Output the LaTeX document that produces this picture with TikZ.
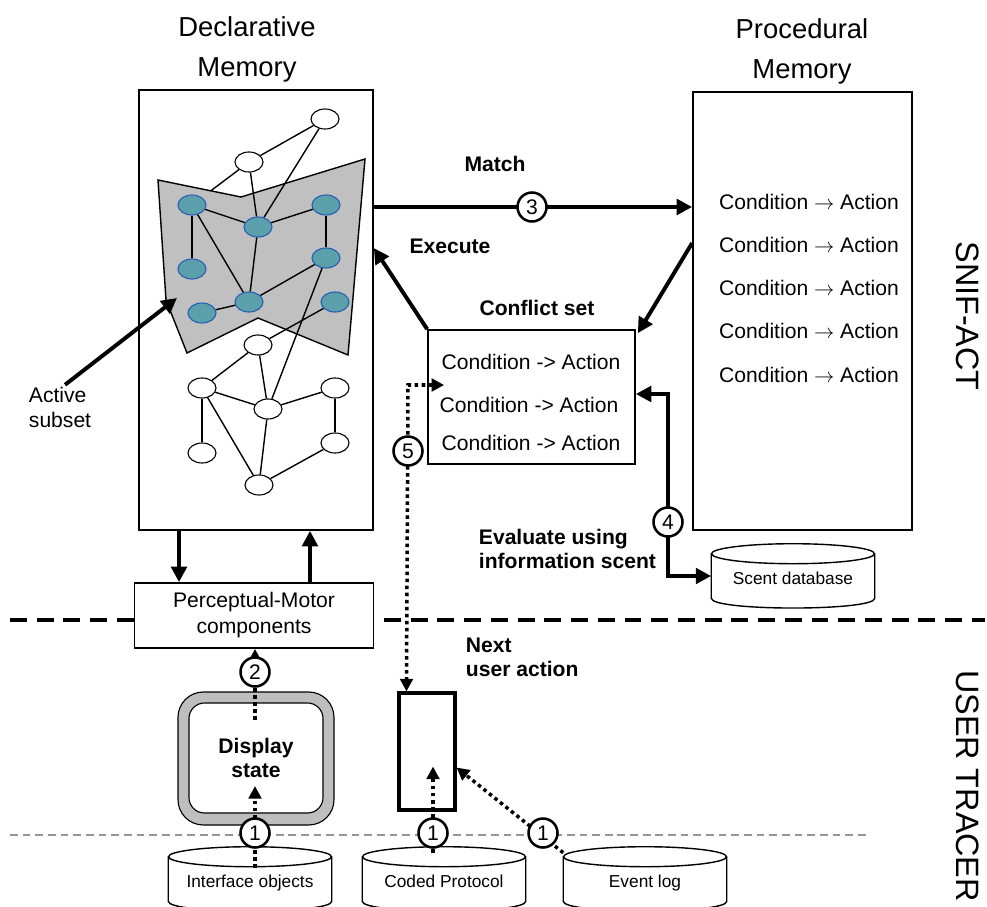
\documentclass[tikz,border=0pt]{standalone}
\usepackage{fontspec}
\setmainfont{Liberation Sans}
\usetikzlibrary{arrows.meta,calc,shapes.geometric}

\newcommand{\pxl}{0.025cm}
\definecolor{chunkfill}{RGB}{92,160,172}
\definecolor{chunkline}{RGB}{40,95,180}
\definecolor{subsetgray}{RGB}{192,192,192}
\definecolor{framegray}{RGB}{190,190,190}
\definecolor{rulegray}{RGB}{150,150,150}

\pgfdeclarelayer{back}
\pgfdeclarelayer{mid}
\pgfsetlayers{back,mid,main}

\tikzset{
  bigtip/.tip={Triangle[length=11pt,width=11pt]},
  smalltip/.tip={Triangle[length=9pt,width=9pt]},
  membox/.style={draw,line width=1.2pt,inner sep=0pt},
  chunk/.style={ellipse,draw,line width=0.8pt,fill=white,minimum width=28*\pxl,minimum height=20*\pxl,inner sep=0pt},
  active/.style={chunk,fill=chunkfill,draw=chunkline},
  link/.style={line width=1pt},
  thickarrow/.style={line width=2.8pt,-bigtip},
  dotline/.style={line width=2.5pt,dash pattern=on 2.5pt off 2.5pt},
  stepnum/.style={circle,draw,line width=1.8pt,fill=white,minimum size=29*\pxl,inner sep=0pt,font=\fontsize{15}{15}\selectfont},
  lbl/.style={font=\fontsize{15}{17.8}\selectfont},
  blbl/.style={font=\bfseries\fontsize{15}{17}\selectfont},
  title/.style={font=\fontsize{19.5}{28.4}\selectfont,align=center},
  side/.style={font=\fontsize{23}{23}\selectfont,rotate=-90},
  dbase/.style={minimum width=163*\pxl,minimum height=44*\pxl,inner sep=0pt,font=\fontsize{12.3}{14}\selectfont},
  dbline/.style={line width=1pt},
}

\begin{document}
\begin{tikzpicture}[x=\pxl,y=-\pxl]
\useasboundingbox (0,0) rectangle (987,907);

% separators between the two systems
\draw[line width=2.6pt,dash pattern=on 12pt off 7pt] (10,620) -- (985,620);
\draw[rulegray,line width=1.4pt,dash pattern=on 5.5pt off 3.5pt] (10,835) -- (870,835);

% memories
\node[title] (dtitle) at (247,49) {Declarative\\Memory};
\node[title] (ptitle) at (802,51) {Procedural\\Memory};
\node[membox,minimum width=234*\pxl,minimum height=440*\pxl] (decl) at (256,310) {};
\node[membox,minimum width=219*\pxl,minimum height=438*\pxl] (proc) at (802.5,311) {};
\node[membox,minimum width=207*\pxl,minimum height=134*\pxl] (cs) at (531.5,397) {};
\node[membox,fill=white,minimum width=239*\pxl,minimum height=65*\pxl,align=center,font=\fontsize{15}{18.5}\selectfont] (pm) at (254,615.5) {Perceptual-Motor\\components};

\foreach \y in {202,245,288,331,375}
  \node[lbl] (rule\y) at (809,\y) {Condition $\rightarrow$ Action};
\foreach \y/\x in {362/531,405/529,443/531}
  \node[lbl] (cand\y) at (\x,\y) {Condition -> Action};
\node[blbl] (cslabel) at (537,308) {Conflict set};

% chunks in declarative memory
\foreach \nm/\x/\y in {w1/325/119,w2/249/162,c1/258/345,c2/202/388,c3/268/409,c4/335/388,c5/202/453,c6/335/443,c7/259/485}
  \node[chunk] (\nm) at (\x,\y) {};
\foreach \nm/\x/\y in {a1/192/205,a2/258/227,a3/326/205,a4/192/269,a5/326/258,a6/249/302,a7/202/313,a8/335/302}
  \node[active] (\nm) at (\x,\y) {};

\begin{pgfonlayer}{back}
  \draw[link] (w2) -- (a1);
\end{pgfonlayer}
\begin{pgfonlayer}{mid}
  \draw[fill=subsetgray,line width=1pt] (158,180) -- (241,197) -- (365,159) -- (348,355) -- (258,318) -- (187,353) -- (166,300) -- cycle;
\end{pgfonlayer}

\foreach \s/\t in {w1/w2,w1/a2,w2/a2,a1/a2,a2/a3,a3/a5,a1/a4,a1/a6,a2/a6,a6/a5,a7/a6,a8/c1,a5/c3,c1/c2,c1/c3,c2/c3,c3/c4,c4/c6,c2/c5,c2/c7,c3/c7,c7/c6}
  \draw[link] (\s) -- (\t);

\node[lbl,align=left,anchor=west] (actlbl) at (24,407) {Active\\subset};
\coordinate (subsetpt) at (177,298);
\draw[thickarrow] ($(actlbl.north)+(5,3)$) -- (subsetpt);

% match / execute cycle
\draw[thickarrow] (decl.east |- 0,207) -- (proc.west |- 0,207);
\node[stepnum] (s3) at (532,207) {3};
\node[blbl] (match) at (495,164) {Match};
\draw[thickarrow] (cs.north west) -- (decl.east |- 0,248);
\node[blbl] (exec) at (450,246) {Execute};
\draw[thickarrow] (proc.west |- 0,243) -- ($(cs.north east)+(2,4)$);

% databases
\foreach \nm/\x/\y/\txt in {scent/793/576/Scent database,iface/250/879/Interface objects,coded/444/879/Coded Protocol,evlog/645/879/Event log}{
  \node[dbase] (\nm) at (\x,\y) {\raisebox{-6pt}[0pt][0pt]{\txt}};
  \draw[dbline] (\nm.north west) -- (\nm.south west) .. controls +(0,13) and +(0,13) .. (\nm.south east) -- (\nm.north east);
  \draw[dbline] (\nm.north) ellipse [x radius=81.5, y radius=10];
}

% scent evaluation
\draw[line width=2.8pt,bigtip-bigtip] (cs.east |- 0,394) -- (668,394) -- (668,576) -- (scent.west);
\node[stepnum] (s4) at (668,522) {4};
\node[blbl,align=left,anchor=west] (evallbl) at (474,549) {Evaluate using\\information scent};

% perception and action
\draw[thickarrow] (decl.south -| 179,0) -- (pm.north -| 179,0);
\draw[thickarrow] (pm.north -| 310,0) -- (decl.south -| 310,0);

% user tracer
\node[draw,fill=framegray,rounded corners=18pt,minimum width=156*\pxl,minimum height=133*\pxl,line width=0.8pt] (dispframe) at (256,758.5) {};
\node[draw,fill=white,rounded corners=11pt,minimum width=134*\pxl,minimum height=110*\pxl,line width=0.8pt,blbl,align=center] (disp) at (256,758) {Display\\state};
\node[draw,line width=2.2pt,minimum width=56*\pxl,minimum height=117*\pxl] (nxt) at (427,751.5) {};

\draw[dotline,-smalltip] ($(iface.north)+(5,11)$) -- ($(disp.center)+(-1,28)$);
\draw[dotline,-smalltip] ($(disp.center)+(-1,-38)$) -- (pm.south -| 255,0);
\draw[dotline,-smalltip] ($(coded.north)+(-11,-4)$) -- ($(nxt.south)+(6,-45)$);
\draw[dotline,-smalltip] ($(evlog.north west)+(0,-4)$) -- ($(nxt.east)+(0,16)$);
\draw[dotline,smalltip-smalltip] ($(cs.west)+(17,-12)$) -- (408,385) -- ($(nxt.north west)+(9,0)$);

\node[stepnum] (s2) at (255,672) {2};
\node[stepnum] (s1a) at (255,833) {1};
\node[stepnum] (s1b) at (433,833) {1};
\node[stepnum] (s1c) at (543,833) {1};
\node[stepnum] (s5) at (408,451) {5};
\node[blbl,align=left,anchor=west] (nextlbl) at (461,657) {Next\\user action};

% system labels
\node[side] (snif) at (968,316) {SNIF-ACT};
\node[side] (tracer) at (968,786) {USER TRACER};
\end{tikzpicture}
\end{document}
